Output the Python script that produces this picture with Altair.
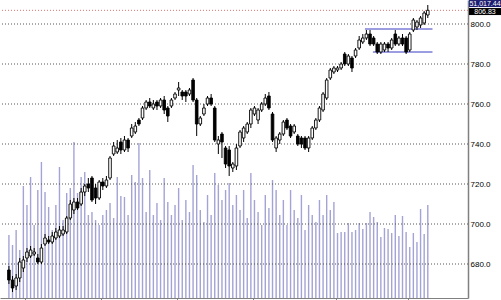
import altair as alt
import pandas as pd

# ---- data ----
opens = [677,672,669,673,678,683,684,685,683,681,
         690,692,691,693,694,695,696,703,707,711,
         710,716,720,723,718,713,721,719,723,735,
         736,741,737,742,744,746,752,753,758,761,
         758,761,759,762,758,759,763,767,766,766,
         765,772,762,750,755,760,763,758,740,745,
         738,737,728,729,739,743,746,750,755,752,
         757,760,764,755,738,742,745,752,749,746,
         744,743,743,738,743,748,752,757,763,773,
         776,777,778,785,780,783,784,788,791,793,
         795,793,790,786,787,790,788,795,790,793,
         793,787,797,798.5,799.5,800.5,804.5]
closes = [672,668,673,681,682,686,687,686,681,688,
          693,691,694,696,697,697,703,710,711,708,
          716,719,718,712,713,721,719,722,733,739,
          738,737,742,738,748,749,750,758,761,759,
          760,759,762,757,754,762,765,768,764,764,
          767,762,750,753,758,763,760,742,742,741,
          730,729,730,738,746,748,750,757,758,757,
          760,763,758,742,743,745,751,748,744,749,
          740,740,738,743,748,752,758,765,772,777,
          778,778,780,780,784,778,787,792,793,795,
          790,790,786,790,790,788,792,790,793,790,
          786,795,802,801,803,805.5,806.83]
highs = [679,674,675,683,684,688,689,688,685,690,
         695,694,696,698,699,699,704,712,713,713,
         718,720,723,724,720,722,723,724,734,741,
         742,743,744,743,750,751,753,759,762,763,
         762,762,763,764,759,763,766,771,767,767,
         768,773,763,754,760,764,765,759,744,746,
         739,739,731,740,747,749,751,758,759,758,
         761,765,766,756,744,746,752,753,750,750,
         745,744,744,744,749,753,759,766,773,778,
         779,779,781,786,785,784,788,794,795,797,
         797,794,791,791,791,791,793,797,794,795,
         794,796,803,802,804,806.5,809.5]
lows = [670,666,667,671,676,681,683,684,680,680,
        689,690,690,692,693,694,695,702,705,707,
        709,714,716,711,710,712,717,718,722,734,
        735,735,736,736,743,745,749,752,757,758,
        757,757,758,755,751,758,762,764,762,761,
        764,761,744,749,754,759,759,741,735,733,
        728,724,726,727,738,741,745,748,754,750,
        756,759,757,741,736,740,744,747,743,745,
        739,738,737,736,742,747,751,756,762,772,
        775,776,777,779,779,776,783,787,790,792,
        789,789,785,785,786,786,787,789,789,789,
        785,786,796,797,798,799.5,803]
volumes = [63,53,68,48,112,93,121,73,108,136,
           106,91,68,93,131,78,105,110,156,105,
           121,126,83,86,78,73,83,88,95,80,
           121,102,101,83,123,116,155,120,86,128,
           83,95,78,120,96,83,93,110,78,98,
           86,133,123,88,76,103,83,125,113,98,
           108,115,93,103,88,108,80,125,98,86,
           73,103,90,118,108,83,98,73,108,88,
           80,103,68,93,83,76,98,83,103,88,
           96,65,66,66,75,66,68,75,69,75,
           86,81,76,61,70,69,65,83,62,82,
           66,51,65,56,89,64,93]

price_ticks = [680, 700, 720, 740, 760, 780, 800]
month_ticks = [4.5, 25.5, 46.5, 67.5, 90.5, 110.5]
last_price = 806.83
last_label = "806.83"
volume_label = "51,017.44"
channel_start = [98.6, 100.8]
channel_end = [117.3, 117.3]
channel_level = [797.5, 786.0]

n = len(closes)
df = pd.DataFrame({
    "i": list(range(n)), "open": opens, "close": closes,
    "high": highs, "low": lows, "vol": volumes,
})
df["fill"] = ["#ffffff" if c >= o else "#000000" for o, c in zip(opens, closes)]

grid_df = pd.DataFrame({"level": price_ticks})
chan_df = pd.DataFrame({"s": channel_start, "e": channel_end, "level": channel_level})
last_df = pd.DataFrame({"level": [last_price]})
box_h = 3.5      # price units per label box (7 px)
box_gap = 4.0    # price units between box centres (8 px)
lab_df = pd.DataFrame({
    "text": [volume_label, last_label],
    "mid": [last_price - 0.6 + box_gap, last_price - 0.6],
    "fill": ["#1c1c70", "#000000"],
})
lab_df["lo"] = lab_df["mid"] - box_h / 2
lab_df["hi"] = lab_df["mid"] + box_h / 2

xscale = alt.Scale(domain=[-1.084, 125.75], nice=False, zero=False)
yscale = alt.Scale(domain=[663, 812], nice=False, zero=False)
x_axis = alt.Axis(values=month_ticks, labels=False, title=None, grid=False,
                  tickSize=3, tickColor="#808080", domainColor="#808080")
y_axis = alt.Axis(orient="right", values=price_ticks, format=".1f", grid=False,
                  tickSize=0, labelPadding=2, labelFontSize=8, labelColor="#000000",
                  labelFont="Liberation Sans", domainColor="#808080",
                  domainWidth=1.5, title=None)

base = alt.Chart(df)

volume = base.mark_bar(size=1.4, color="#a3a3d6").encode(
    x=alt.X("i:Q", scale=xscale, axis=x_axis),
    y=alt.Y("vol:Q", scale=alt.Scale(domain=[0, 298], nice=False), axis=None),
)

grid = alt.Chart(grid_df).mark_rule(color="#555555", strokeDash=[1, 2], strokeWidth=1).encode(
    y=alt.Y("level:Q", scale=yscale, axis=y_axis),
)

redline = alt.Chart(last_df).mark_rule(color="#e07070", strokeDash=[1, 2], strokeWidth=1).encode(
    y=alt.Y("level:Q", scale=yscale, axis=y_axis),
)

channel = alt.Chart(chan_df).mark_rule(color="#3a3ac4", strokeWidth=1).encode(
    x=alt.X("s:Q", scale=xscale, axis=x_axis),
    x2="e:Q",
    y=alt.Y("level:Q", scale=yscale, axis=y_axis),
)

wicks = base.mark_rule(color="#000000", strokeWidth=1).encode(
    x=alt.X("i:Q", scale=xscale, axis=x_axis),
    y=alt.Y("low:Q", scale=yscale, axis=y_axis),
    y2="high:Q",
)

bodies = base.mark_bar(size=2.6, stroke="#000000", strokeWidth=0.9).encode(
    x=alt.X("i:Q", scale=xscale, axis=x_axis),
    y=alt.Y("open:Q", scale=yscale, axis=y_axis),
    y2="close:Q",
    fill=alt.Fill("fill:N", scale=None),
)

boxes = alt.Chart(lab_df).mark_rect().encode(
    x=alt.value(469), x2=alt.value(501),
    y=alt.Y("hi:Q", scale=yscale, axis=y_axis),
    y2="lo:Q",
    fill=alt.Fill("fill:N", scale=None),
)
box_text = alt.Chart(lab_df).mark_text(color="#ffffff", fontSize=7, font="Liberation Sans",
                                       align="center", baseline="middle").encode(
    x=alt.value(485),
    y=alt.Y("mid:Q", scale=yscale, axis=y_axis),
    text="text:N",
)

price_layers = alt.layer(grid, redline, channel, wicks, bodies, boxes, box_text)

chart = alt.layer(volume, price_layers).resolve_scale(y="independent").properties(
    width=468, height=298,
    autosize=alt.AutoSizeParams(type="none"),
    padding={"left": 0, "top": 0, "right": 33, "bottom": 2},
    background="#ffffff",
).configure_view(stroke=None)

chart.save("out.html", embed_options={"renderer": "svg", "actions": False})
